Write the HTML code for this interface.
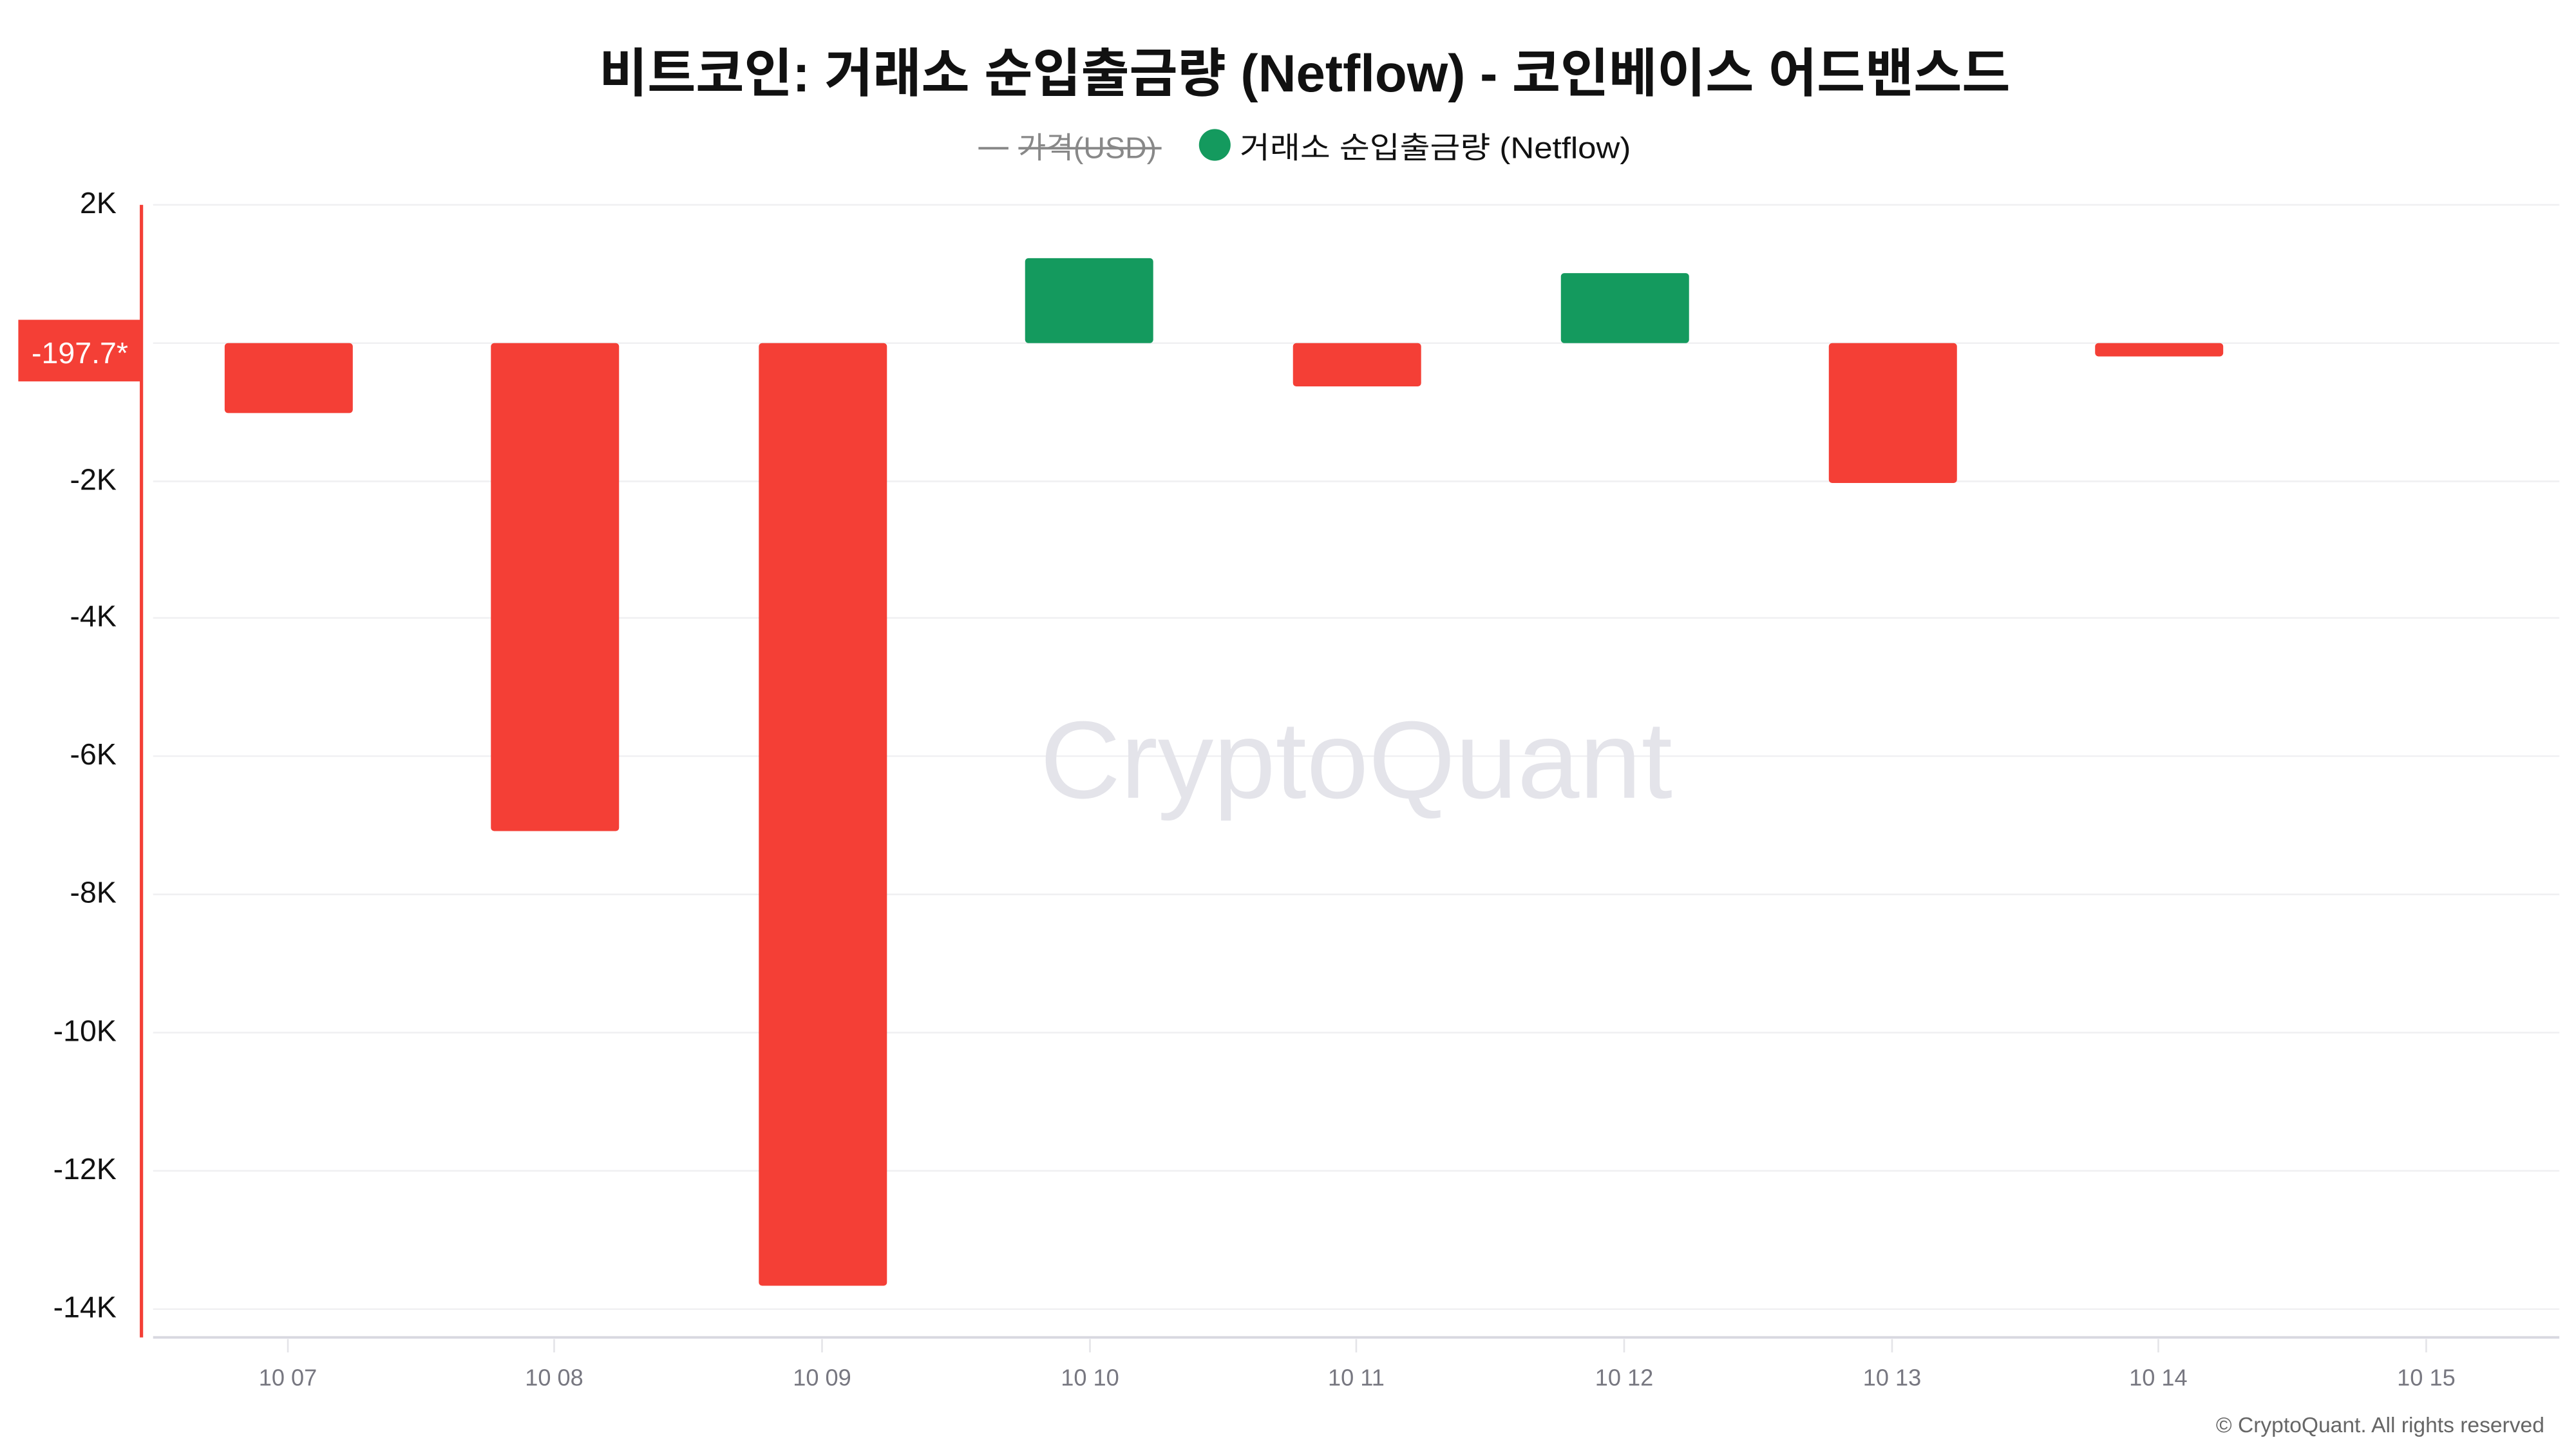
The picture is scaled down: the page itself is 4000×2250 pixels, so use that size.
<!DOCTYPE html>
<html><head><meta charset="utf-8"><style>
html,body{margin:0;padding:0;background:#fff;}
svg{display:block;}
text{font-family:"Liberation Sans","Noto Sans CJK KR",sans-serif;}
</style></head><body>
<svg width="4000" height="2250" viewBox="0 0 1548 870" preserveAspectRatio="none" xmlns="http://www.w3.org/2000/svg">
<rect width="1548" height="870" fill="#fff"/>
<text x="784" y="55" text-anchor="middle" font-size="31.5" font-weight="bold" fill="#111" textLength="848" lengthAdjust="spacingAndGlyphs">비트코인: 거래소 순입출금량 (Netflow) - 코인베이스 어드밴스드</text>
<line x1="588" y1="89" x2="606" y2="89" stroke="#888" stroke-width="1.5"/>
<text x="612" y="95" font-size="18" fill="#888">가격(USD)</text>
<line x1="612" y1="89" x2="698" y2="89" stroke="#888" stroke-width="1.5"/>
<circle cx="730" cy="87" r="9.5" fill="#149a5e"/>
<text x="745" y="95" font-size="18" fill="#111" textLength="235" lengthAdjust="spacingAndGlyphs">거래소 순입출금량 (Netflow)</text>
<g stroke="#f0f0f2" stroke-width="1">
<line x1="92" y1="123" x2="1538" y2="123"/><line x1="92" y1="206" x2="1538" y2="206"/>
<line x1="92" y1="289" x2="1538" y2="289"/><line x1="92" y1="371" x2="1538" y2="371"/>
<line x1="92" y1="454" x2="1538" y2="454"/><line x1="92" y1="537" x2="1538" y2="537"/>
<line x1="92" y1="620" x2="1538" y2="620"/><line x1="92" y1="703" x2="1538" y2="703"/>
<line x1="92" y1="786" x2="1538" y2="786"/>
</g>
<text x="625" y="479" font-size="66" fill="#e4e4ea" textLength="380" lengthAdjust="spacingAndGlyphs">CryptoQuant</text>
<g font-size="18" fill="#111" text-anchor="end">
<text x="70" y="128">2K</text><text x="70" y="294">-2K</text><text x="70" y="376">-4K</text>
<text x="70" y="459">-6K</text><text x="70" y="542">-8K</text><text x="70" y="625">-10K</text>
<text x="70" y="708">-12K</text><text x="70" y="791">-14K</text>
</g>
<line x1="92" y1="803" x2="1538" y2="803" stroke="#d8d8e0" stroke-width="1.5"/>
<g stroke="#e4e4e8" stroke-width="1">
<line x1="173" y1="804" x2="173" y2="812"/><line x1="333" y1="804" x2="333" y2="812"/>
<line x1="494" y1="804" x2="494" y2="812"/><line x1="655" y1="804" x2="655" y2="812"/>
<line x1="815" y1="804" x2="815" y2="812"/><line x1="976" y1="804" x2="976" y2="812"/>
<line x1="1137" y1="804" x2="1137" y2="812"/><line x1="1297" y1="804" x2="1297" y2="812"/>
<line x1="1458" y1="804" x2="1458" y2="812"/>
</g>
<g font-size="14" fill="#777780" text-anchor="middle">
<text x="173" y="832">10 07</text><text x="333" y="832">10 08</text><text x="494" y="832">10 09</text>
<text x="655" y="832">10 10</text><text x="815" y="832">10 11</text><text x="976" y="832">10 12</text>
<text x="1137" y="832">10 13</text><text x="1297" y="832">10 14</text><text x="1458" y="832">10 15</text>
</g>
<g fill="#f43f36">
<rect x="135" y="206" width="77" height="42" rx="2"/>
<rect x="295" y="206" width="77" height="293" rx="2"/>
<rect x="456" y="206" width="77" height="566" rx="2"/>
<rect x="777" y="206" width="77" height="26" rx="2"/>
<rect x="1099" y="206" width="77" height="84" rx="2"/>
<rect x="1259" y="206" width="77" height="8" rx="2"/>
</g>
<g fill="#149a5e">
<rect x="616" y="155" width="77" height="51" rx="2"/>
<rect x="938" y="164" width="77" height="42" rx="2"/>
</g>
<line x1="85" y1="123" x2="85" y2="803" stroke="#f43f36" stroke-width="2"/>
<rect x="11" y="192" width="74" height="37" fill="#f43f36"/>
<text x="48" y="218" text-anchor="middle" font-size="18" fill="#fff">-197.7*</text>
<text x="1529" y="860" text-anchor="end" font-size="13" fill="#666">© CryptoQuant. All rights reserved</text>
</svg>
</body></html>
